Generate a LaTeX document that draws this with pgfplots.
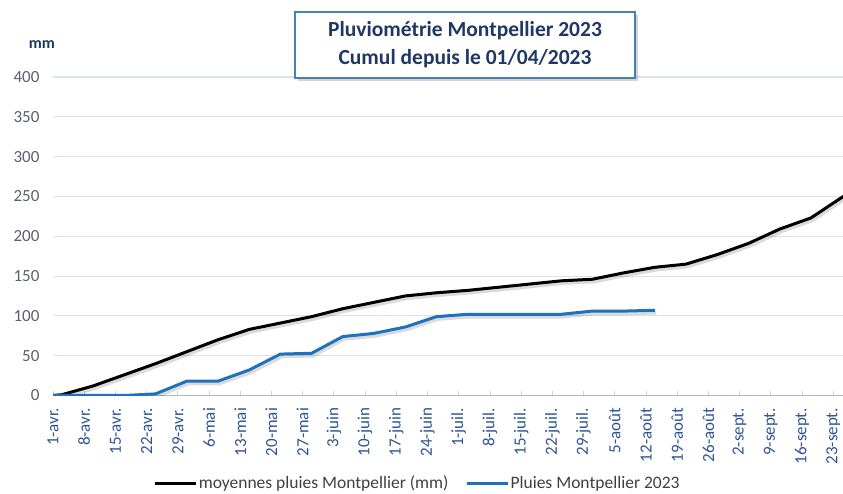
\documentclass[border=0pt]{standalone}
\usepackage{fontspec}
\setmainfont{Carlito}
\usepackage{pgfplots}
\pgfplotsset{compat=1.18}
\usetikzlibrary{shadows}

\definecolor{pluie}{RGB}{30,114,189}
\definecolor{titre}{RGB}{31,56,100}
\definecolor{cadre}{RGB}{70,130,185}
\definecolor{grille}{RGB}{218,226,237}
\definecolor{axey}{RGB}{90,96,108}
\definecolor{axex}{RGB}{47,84,150}
\definecolor{legende}{RGB}{64,64,64}

% days counted from 1 April 2023
\pgfplotstableread{
jour cumul
0    0
2    1
9    12
16   26
23   40
30   55
37   70
44   83
51   91
58   99
65   109
72   117
79   125
86   129
93   132
100  136
107  140
114  144
121  146
128  154
135  161
142  165
149  177
156  191
163  209
170  223
177  249
184  275
}\moyennes

\pgfplotstableread{
jour cumul
0    0
2    0
9    0
16   0
23   2
30   18
37   18
44   32
51   52
58   53
65   74
72   78
79   86
86   99
93   102
100  102
107  102
114  102
121  106
128  106
135  107
}\pluies

\begin{document}
\begin{tikzpicture}[x=1pt,y=1pt]
\useasboundingbox (0,0) rectangle (843,494);
\begin{axis}[
  at={(53pt,98.5pt)}, anchor=south west,
  scale only axis, width=790pt, height=318.5pt,
  xmin=0, xmax=177.2, ymin=0, ymax=400,
  axis lines*=left,
  y axis line style={draw=none},
  x axis line style={draw=black!28, line width=1.4pt},
  ytick={0,50,...,400},
  ytick style={draw=none},
  xtick={0,7,...,175},
  xticklabels={1-avr.,8-avr.,15-avr.,22-avr.,29-avr.,6-mai,13-mai,20-mai,27-mai,3-juin,10-juin,17-juin,24-juin,1-juil.,8-juil.,15-juil.,22-juil.,29-juil.,5-août,12-août,19-août,26-août,2-sept.,9-sept.,16-sept.,23-sept.},
  xtick style={draw=black!18, line width=0.8pt},
  tick align=inside, major tick length=4pt,
  ymajorgrids, grid style={grille, line width=1.1pt},
  /pgf/number format/assume math mode=true,
  yticklabel style={font=\fontsize{17}{17}\selectfont, text=axey, xshift=-10pt},
  xticklabel style={font=\fontsize{17}{17}\selectfont, text=axex, rotate=90, anchor=east, xshift=-9pt},
  legend style={at={(axis description cs:0.461,-0.275)}, anchor=center, draw=none, fill=none,
    font=\fontsize{17.5}{17.5}\selectfont, text=legende, legend columns=2,
    nodes={inner sep=1pt},
    /tikz/every even column/.append style={column sep=16pt}},
  legend image code/.code={\draw[#1] (0pt,0pt) -- (41pt,0pt);},
  legend cell align=left,
]
% soft drop shadows under both curves
\addplot[black, opacity=0.14, line width=3.5pt, line join=round, xshift=1.5pt, yshift=-2.5pt, forget plot] table[x=jour, y=cumul]{\moyennes};
\addplot[black, opacity=0.14, line width=3.5pt, line join=round, xshift=1.5pt, yshift=-2.5pt, forget plot] table[x=jour, y=cumul]{\pluies};
\addplot[black, line width=3pt, line join=round] table[x=jour, y=cumul]{\moyennes};
\addlegendentry{moyennes pluies Montpellier (mm)}
\addplot[pluie, line width=3pt, line join=round] table[x=jour, y=cumul]{\pluies};
\addlegendentry{Pluies Montpellier 2023}
\end{axis}

\node[font=\fontsize{16}{16}\selectfont\bfseries, text=titre] at (42,449) {mm};
\node[draw=cadre, line width=1.6pt, fill=white, minimum width=340pt, minimum height=66pt,
      drop shadow={shadow xshift=3pt, shadow yshift=-3pt, opacity=0.35},
      align=center, text=titre, font=\fontsize{21.5}{28}\selectfont\bfseries]
  at (465,449) {Pluviométrie Montpellier 2023\\Cumul depuis le 01/04/2023};
\end{tikzpicture}
\end{document}
